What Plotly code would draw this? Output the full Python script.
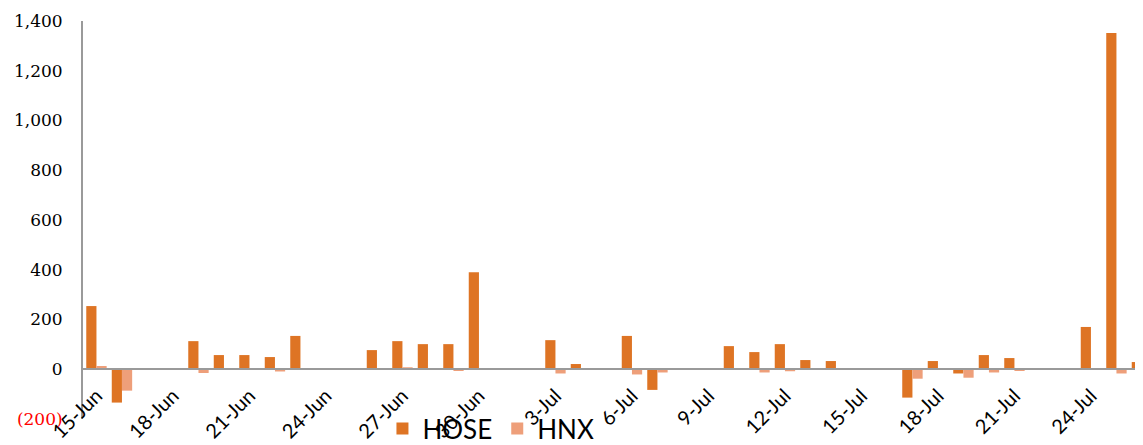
import plotly.graph_objects as go

dates = [
    "2017-06-15", "2017-06-16", "2017-06-19", "2017-06-20", "2017-06-21", "2017-06-22", "2017-06-23",
    "2017-06-26", "2017-06-27", "2017-06-28", "2017-06-29", "2017-06-30",
    "2017-07-03", "2017-07-04", "2017-07-05", "2017-07-06", "2017-07-07",
    "2017-07-10", "2017-07-11", "2017-07-12", "2017-07-13", "2017-07-14",
    "2017-07-17", "2017-07-18", "2017-07-19", "2017-07-20", "2017-07-21",
    "2017-07-24", "2017-07-25", "2017-07-26",
]
hose = [254, -134, 113, 57, 57, 49, 134,
        77, 113, 101, 101, 390,
        117, 21, 5, 134, -83,
        93, 69, 101, 37, 33,
        -114, 33, -17, 57, 45,
        170, 1352, 29]
hnx = [13, -86, -15, 0, -3, -9, -1,
       1, 8, -2, -6, 5,
       -17, 5, -2, -21, -13,
       1, -13, -8, 0, -1,
       -38, 5, -34, -13, -7,
       0, -17, -45]

y_tickvals = [-200, 0, 200, 400, 600, 800, 1000, 1200, 1400]
y_ticktext = ["<span style='color:red'>(200)</span>", "0", "200", "400", "600",
              "800", "1,000", "1,200", "1,400"]

fig = go.Figure()
fig.add_trace(go.Bar(x=dates, y=hose, name="HOSE", marker=dict(color="#DE7424", line=dict(width=0))))
fig.add_trace(go.Bar(x=dates, y=hnx, name="HNX", marker=dict(color="#EE9F7A", line=dict(width=0))))

fig.update_layout(
    width=1135, height=437,
    margin=dict(l=75, r=0, t=13, b=26, autoexpand=False),
    paper_bgcolor="white", plot_bgcolor="white",
    barmode="group", bargap=0.2, bargroupgap=0,
    showlegend=True,
    legend=dict(orientation="h", x=0.2825, xanchor="left", y=0.035, yanchor="top",
                bgcolor="rgba(0,0,0,0)", font=dict(family="Lato", size=26, color="black"),
                traceorder="normal"),
    xaxis=dict(
        type="date", automargin=False,
        range=["2017-06-14 11:20", "2017-07-26 01:00"],
        tick0="2017-06-15", dtick=3 * 86400000,
        tickformat="%-d-%b", tickangle=-45,
        anchor="free", position=0.125,
        showline=True, linecolor="#9A9A9A", linewidth=2,
        showgrid=False, zeroline=False, ticks="",
        ticklabelstandoff=6,
        tickfont=dict(family="Lato", size=20, color="black"),
    ),
    yaxis=dict(
        range=[-200, 1400], automargin=False,
        tickvals=y_tickvals, ticktext=y_ticktext,
        showline=True, linecolor="#9A9A9A", linewidth=2,
        showgrid=False, zeroline=False, ticks="",
        ticklabelstandoff=15,
        tickfont=dict(family="DejaVu Serif", size=17, color="black"),
    ),
)

fig.write_html("out.html")
